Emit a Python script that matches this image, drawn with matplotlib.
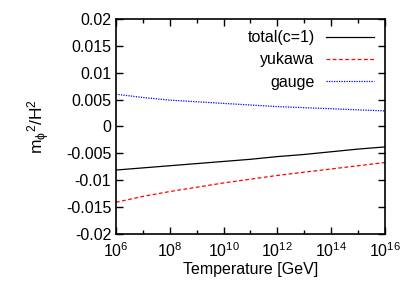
import numpy as np
import matplotlib
matplotlib.use("Agg")
import matplotlib.pyplot as plt
from matplotlib.ticker import FixedLocator, NullFormatter

plt.rcParams['font.family'] = ['Liberation Sans', 'DejaVu Sans']
plt.rcParams['mathtext.fontset'] = 'custom'
plt.rcParams['mathtext.rm'] = 'Liberation Sans'
plt.rcParams['mathtext.it'] = 'Liberation Sans:italic'
plt.rcParams['mathtext.default'] = 'regular'

# data
temp = [1e6, 1e7, 1e8, 1e9, 1e10, 1e11, 1e12, 1e13, 1e14, 1e15, 1e16]
total = [-0.0081, -0.0077, -0.0073, -0.0069, -0.0065, -0.0061, -0.0056, -0.0052, -0.0047, -0.0042, -0.0038]
yukawa = [-0.0141, -0.0130, -0.0121, -0.0113, -0.0105, -0.0098, -0.0091, -0.0085, -0.0079, -0.0073, -0.0067]
gauge = [0.0060, 0.0054, 0.0049, 0.0046, 0.0043, 0.0040, 0.0037, 0.0035, 0.0033, 0.0031, 0.0029]

fig = plt.figure(figsize=(4.09, 2.86), dpi=100)
ax = fig.add_axes([0.2836, 0.1818, 0.6577, 0.7518])

ax.plot(temp, total, color='black', lw=0.9, label='total(c=1)')
ax.plot(temp, yukawa, color='red', lw=0.9, ls=(0, (3, 2)), label='yukawa')
ax.plot(temp, gauge, color='blue', lw=0.9, ls=(0, (1, 1)), label='gauge')

ax.set_xscale('log')
ax.set_xlim(1e6, 1e16)
ax.set_ylim(-0.02, 0.02)
ax.xaxis.set_major_locator(FixedLocator([1e6, 1e8, 1e10, 1e12, 1e14, 1e16]))
ax.xaxis.set_minor_locator(FixedLocator([1e7, 1e9, 1e11, 1e13, 1e15]))
ax.xaxis.set_minor_formatter(NullFormatter())
ax.set_xticklabels(['$10^{6}$', '$10^{8}$', '$10^{10}$', '$10^{12}$', '$10^{14}$', '$10^{16}$'])
yt = [-0.02, -0.015, -0.01, -0.005, 0, 0.005, 0.01, 0.015, 0.02]
ax.set_yticks(yt)
ax.set_yticklabels(['-0.02', '-0.015', '-0.01', '-0.005', '0', '0.005', '0.01', '0.015', '0.02'])
ax.tick_params(which='both', direction='in', top=True, right=True, labelsize=11.5, width=1)
ax.tick_params(which='major', length=5)
ax.tick_params(which='minor', length=3)
ax.tick_params(axis='x', pad=5)
for s in ax.spines.values():
    s.set_linewidth(1.2)

ax.set_xlabel('Temperature [GeV]', fontsize=11.5, labelpad=2)
ax.set_ylabel('m$_\\phi$$^2$/H$^2$', fontsize=12.5, labelpad=10)

ax.legend(loc='upper right', frameon=False, markerfirst=False, fontsize=11.5,
          handlelength=3.0, labelspacing=0.45, borderaxespad=0.3, handletextpad=0.7)

fig.savefig('out.png', dpi=100)
